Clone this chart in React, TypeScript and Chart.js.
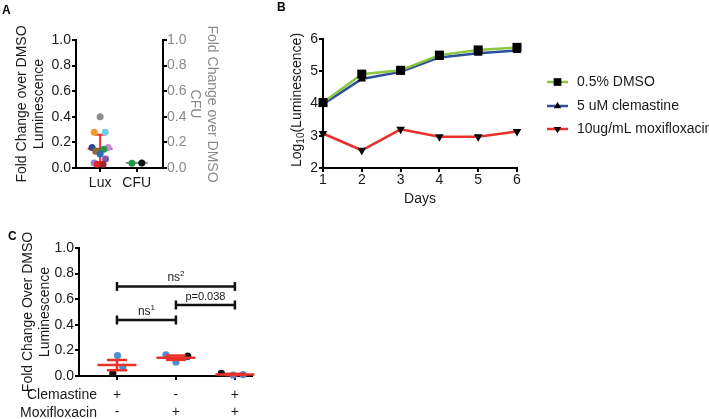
import React, { useEffect, useRef } from 'react';
import { Chart, registerables } from 'chart.js';

Chart.register(...registerables);

const W = 709;
const H = 419;
const FONT = "'Liberation Sans', Arial, Helvetica, sans-serif";
const INK = '#1a1a1a';
const GREY = '#8a8a8a';
const RED = '#e8312a';
const DOT_BLUE = '#4f8fd6';

// ---------- Panel A ----------
const aCategories = ['Lux', 'CFU'];
const luxValues = [0.4, 0.28, 0.28, 0.16, 0.16, 0.13, 0.146, 0.11, 0.07, 0.04, 0.03, 0.03];
const luxJitter = [0, -0.16, 0.14, -0.22, 0.22, -0.12, 0.1, 0, 0.15, -0.16, -0.08, 0.08];
const luxColors = ['#8c8c8c', '#f5982a', '#72cde6', '#2f4a8f', '#c58bd1', '#8a6a2d', '#1f9a4b', '#2b6db4', '#7b59a8', '#9b7dd1', '#e2262a', '#a3262c'];
const cfuValues = [0.037, 0.04];
const cfuJitter = [-0.13, 0.14];
const cfuColors = ['#1f9a4b', '#111111'];
const luxMedian = 0.15;
const luxLow = 0.04;
const luxHigh = 0.26;
const cfuMedian = 0.04;

// ---------- Panel B ----------
const days = [1, 2, 3, 4, 5, 6];
const dmso = [4.03, 4.91, 5.03, 5.5, 5.66, 5.74];
const clemastine = [3.98, 4.76, 4.98, 5.43, 5.56, 5.64];
const moxifloxacin = [3.07, 2.55, 3.2, 2.97, 2.97, 3.13];
const seriesNames = ['0.5% DMSO', '5 uM clemastine', '10ug/mL moxifloxacin'];

// ---------- Panel C ----------
const cRowNames = ['Clemastine', 'Moxifloxacin'];
const clemastineSigns = ['+', '-', '+'];
const moxifloxacinSigns = ['-', '+', '+'];
const cGroup = [0, 0, 0, 1, 1, 1, 2, 2, 2];
const cJitter = [0.01, 0.1, -0.07, -0.17, 0, 0.2, -0.23, -0.03, 0.14];
const cValues = [0.16, 0.07, 0.02, 0.165, 0.11, 0.155, 0.02, 0.008, 0.01];
const cIsBlack = [false, false, true, false, false, true, true, false, false];
const cMeans = [0.085, 0.143, 0.012];
const cSems = [0.04, 0.017, 0.005];
const bracketFrom = [0, 1, 0];
const bracketTo = [2, 2, 1];
const bracketY = [0.7, 0.555, 0.4375];
const bracketText = ['ns', 'p=0.038', 'ns'];
const bracketSup = ['2', '', '1'];

const common = {
  responsive: false,
  maintainAspectRatio: false,
  animation: false as const,
  devicePixelRatio: 1,
  events: [] as any[],
  plugins: { legend: { display: false }, tooltip: { enabled: false } },
};

const axis = (color = INK, padding = 1) => ({
  grid: { drawOnChartArea: false, drawTicks: true, tickLength: 4, color: '#000', lineWidth: 2 },
  border: { display: true, color: '#000', width: 2 },
  ticks: { color, font: { size: 14, family: FONT }, padding },
});

function hline(ctx: CanvasRenderingContext2D, x1: number, x2: number, y: number) {
  ctx.beginPath();
  ctx.moveTo(x1, y);
  ctx.lineTo(x2, y);
  ctx.stroke();
}
function vline(ctx: CanvasRenderingContext2D, x: number, y1: number, y2: number) {
  ctx.beginPath();
  ctx.moveTo(x, y1);
  ctx.lineTo(x, y2);
  ctx.stroke();
}
function letter(ctx: CanvasRenderingContext2D, t: string, x: number, y: number) {
  ctx.save();
  ctx.font = `bold 12px ${FONT}`;
  ctx.fillStyle = '#000';
  ctx.textAlign = 'left';
  ctx.textBaseline = 'alphabetic';
  ctx.fillText(t, x, y);
  ctx.restore();
}

function makeA(canvas: HTMLCanvasElement) {
  const plugin = {
    id: 'panelA',
    beforeDatasetsDraw(chart: any) {
      const { ctx } = chart;
      const x = chart.scales.x;
      const y = chart.scales.y;
      ctx.save();
      ctx.lineWidth = 2;
      ctx.strokeStyle = RED;
      hline(ctx, x.getPixelForValue(-0.34), x.getPixelForValue(0.34), y.getPixelForValue(luxMedian));
      vline(ctx, x.getPixelForValue(0), y.getPixelForValue(luxLow), y.getPixelForValue(luxHigh));
      hline(ctx, x.getPixelForValue(-0.14), x.getPixelForValue(0.14), y.getPixelForValue(luxHigh));
      hline(ctx, x.getPixelForValue(-0.14), x.getPixelForValue(0.14), y.getPixelForValue(luxLow));
      ctx.strokeStyle = '#8a8a8a';
      hline(ctx, x.getPixelForValue(1 - 0.3), x.getPixelForValue(1 + 0.3), y.getPixelForValue(cfuMedian));
      ctx.restore();
    },
    afterDraw(chart: any) {
      letter(chart.ctx, 'A', 2, 14);
    },
  };
  return new Chart(canvas, {
    type: 'scatter',
    data: {
      datasets: [
        {
          data: luxValues.map((v, i) => ({ x: luxJitter[i], y: v })),
          pointBackgroundColor: luxColors,
          pointBorderWidth: 0,
          pointRadius: 3.5,
          yAxisID: 'y',
        },
        {
          data: cfuValues.map((v, i) => ({ x: 1 + cfuJitter[i], y: v })),
          pointBackgroundColor: cfuColors,
          pointBorderWidth: 0,
          pointRadius: 3.5,
          yAxisID: 'y',
        },
      ],
    },
    options: {
      ...common,
      layout: { padding: { left: 4, right: 485, top: 40, bottom: 221 } },
      scales: {
        x: {
          type: 'linear',
          min: -0.66,
          max: 1.72,
          ...axis(INK, 3),
          afterBuildTicks: (s: any) => {
            s.ticks = [0, 1].map((v) => ({ value: v }));
          },
          afterFit: (s: any) => {
            s.height = 30;
          },
          ticks: { ...axis(INK, 3).ticks, callback: (v: any) => aCategories[v] },
        },
        y: {
          position: 'left',
          min: 0,
          max: 1,
          ...axis(INK, 1),
          ticks: { ...axis(INK, 1).ticks, stepSize: 0.2, callback: (v: any) => Number(v).toFixed(1) },
          afterFit: (s: any) => {
            s.width = 72;
          },
          title: {
            display: true,
            text: ['Fold Change over DMSO', 'Luminescence'],
            color: INK,
            font: { size: 14, family: FONT, lineHeight: 1.25 },
            padding: { top: 9, bottom: 0 },
          },
        },
        y2: {
          position: 'right',
          min: 0,
          max: 1,
          ...axis(GREY, 0),
          ticks: { ...axis(GREY, 0).ticks, stepSize: 0.2, callback: (v: any) => Number(v).toFixed(1) },
          afterFit: (s: any) => {
            s.width = 61;
          },
          title: {
            display: true,
            text: ['Fold Change over DMSO', 'CFU'],
            color: GREY,
            font: { size: 14, family: FONT, lineHeight: 1.25 },
            padding: { top: 3, bottom: 0 },
          },
        },
      },
    } as any,
    plugins: [plugin],
  });
}

function drawMarker(ctx: CanvasRenderingContext2D, style: string, rot: number, x: number, y: number, r: number) {
  ctx.beginPath();
  if (style === 'rect') {
    const s = Math.SQRT1_2 * r;
    ctx.rect(x - s, y - s, 2 * s, 2 * s);
  } else {
    let a = (rot * Math.PI) / 180;
    ctx.moveTo(x + Math.sin(a) * r, y - Math.cos(a) * r);
    a += (2 * Math.PI) / 3;
    ctx.lineTo(x + Math.sin(a) * r, y - Math.cos(a) * r);
    a += (2 * Math.PI) / 3;
    ctx.lineTo(x + Math.sin(a) * r, y - Math.cos(a) * r);
    ctx.closePath();
  }
  ctx.fill();
}

function makeB(canvas: HTMLCanvasElement) {
  const lineColors = ['#8cc63f', '#2d4e9b', RED];
  const styles = ['rect', 'triangle', 'triangle'];
  const rots = [0, 0, 180];
  const radii = [6.4, 5, 5];
  const series = [dmso, clemastine, moxifloxacin];
  const plugin = {
    id: 'panelB',
    afterDraw(chart: any) {
      const { ctx } = chart;
      ctx.save();
      // y title with subscript
      ctx.translate(297, 100);
      ctx.rotate(-Math.PI / 2);
      ctx.fillStyle = INK;
      ctx.textBaseline = 'middle';
      ctx.textAlign = 'left';
      const big = `14px ${FONT}`;
      const small = `10px ${FONT}`;
      ctx.font = big;
      const w1 = ctx.measureText('Log').width;
      const w3 = ctx.measureText('(Luminescence)').width;
      ctx.font = small;
      const w2 = ctx.measureText('10').width;
      let px = -(w1 + w2 + w3) / 2;
      ctx.font = big;
      ctx.fillText('Log', px, 0);
      px += w1;
      ctx.font = small;
      ctx.fillText('10', px, 4);
      px += w2;
      ctx.font = big;
      ctx.fillText('(Luminescence)', px, 0);
      ctx.restore();

      // legend
      const rowY = [82, 106, 129];
      ctx.save();
      seriesNames.forEach((name, i) => {
        const y = rowY[i];
        ctx.strokeStyle = lineColors[i];
        ctx.lineWidth = 2.5;
        hline(ctx, 547, 568, y);
        ctx.fillStyle = '#000';
        drawMarker(ctx, styles[i], rots[i], 557.5, y, radii[i] * 0.85);
        ctx.fillStyle = INK;
        ctx.font = `14px ${FONT}`;
        ctx.textAlign = 'left';
        ctx.textBaseline = 'middle';
        ctx.fillText(name, 577, y);
      });
      ctx.restore();
      letter(ctx, 'B', 277, 11);
    },
  };
  return new Chart(canvas, {
    type: 'line',
    data: {
      datasets: series.map((s, i) => ({
        label: seriesNames[i],
        data: s.map((v, j) => ({ x: days[j], y: v })),
        borderColor: lineColors[i],
        borderWidth: 2.5,
        backgroundColor: '#000',
        pointBackgroundColor: '#000',
        pointBorderWidth: 0,
        pointStyle: styles[i],
        pointRotation: rots[i],
        pointRadius: radii[i],
        tension: 0,
        fill: false,
        clip: false,
      })),
    },
    options: {
      ...common,
      layout: { padding: { left: 293, right: 192, top: 39, bottom: 211 } },
      scales: {
        x: {
          type: 'linear',
          min: 1,
          max: 6,
          ...axis(INK, 0),
          ticks: { ...axis(INK, 0).ticks, stepSize: 1 },
          afterFit: (s: any) => {
            s.height = 40;
          },
          title: {
            display: true,
            text: 'Days',
            color: INK,
            font: { size: 14, family: FONT },
            padding: { top: 0, bottom: 0 },
          },
        },
        y: {
          position: 'left',
          min: 2,
          max: 6,
          ...axis(INK, 1),
          ticks: { ...axis(INK, 1).ticks, stepSize: 1 },
          afterFit: (s: any) => {
            s.width = 30;
          },
        },
      },
    } as any,
    plugins: [plugin],
  });
}

function makeC(canvas: HTMLCanvasElement) {
  const plugin = {
    id: 'panelC',
    afterDatasetsDraw(chart: any) {
      const { ctx } = chart;
      const x = chart.scales.x;
      const y = chart.scales.y;
      ctx.save();
      ctx.strokeStyle = RED;
      ctx.lineWidth = 2.5;
      cMeans.forEach((m, g) => {
        const cx = x.getPixelForValue(g);
        hline(ctx, x.getPixelForValue(g - 0.33), x.getPixelForValue(g + 0.33), y.getPixelForValue(m));
        vline(ctx, cx, y.getPixelForValue(m - cSems[g]), y.getPixelForValue(m + cSems[g]));
        hline(ctx, x.getPixelForValue(g - 0.17), x.getPixelForValue(g + 0.17), y.getPixelForValue(m + cSems[g]));
        hline(ctx, x.getPixelForValue(g - 0.17), x.getPixelForValue(g + 0.17), y.getPixelForValue(m - cSems[g]));
      });
      ctx.restore();
    },
    afterDraw(chart: any) {
      const { ctx } = chart;
      const x = chart.scales.x;
      const y = chart.scales.y;
      ctx.save();
      ctx.strokeStyle = '#111';
      ctx.fillStyle = INK;
      ctx.lineWidth = 2.5;
      bracketY.forEach((by, i) => {
        const x1 = x.getPixelForValue(bracketFrom[i]);
        const x2 = x.getPixelForValue(bracketTo[i]);
        const py = y.getPixelForValue(by);
        hline(ctx, x1, x2, py);
        vline(ctx, x1, py - 4.5, py + 4.5);
        vline(ctx, x2, py - 4.5, py + 4.5);
        const isP = bracketSup[i] === '';
        const mainFont = `${isP ? 11 : 12}px ${FONT}`;
        const supFont = `8px ${FONT}`;
        ctx.font = mainFont;
        const wm = ctx.measureText(bracketText[i]).width;
        ctx.font = supFont;
        const ws = bracketSup[i] ? ctx.measureText(bracketSup[i]).width : 0;
        let tx = (x1 + x2) / 2 - (wm + ws) / 2;
        ctx.textAlign = 'left';
        ctx.textBaseline = 'alphabetic';
        ctx.font = mainFont;
        ctx.fillText(bracketText[i], tx, py - 5);
        tx += wm;
        if (bracketSup[i]) {
          ctx.font = supFont;
          ctx.fillText(bracketSup[i], tx, py - 10);
        }
      });
      // row labels
      ctx.font = `14px ${FONT}`;
      ctx.textAlign = 'right';
      ctx.textBaseline = 'middle';
      ctx.fillText(cRowNames[0], 97, 395);
      ctx.fillText(cRowNames[1], 97, 413);
      ctx.restore();
      letter(ctx, 'C', 8, 240);
    },
  };
  return new Chart(canvas, {
    type: 'scatter',
    data: {
      datasets: [
        {
          data: cValues.map((v, i) => ({ x: cGroup[i] + cJitter[i], y: v })),
          pointBackgroundColor: cIsBlack.map((b) => (b ? '#111111' : DOT_BLUE)),
          pointBorderWidth: 0,
          pointRadius: 3.6,
          clip: false,
        },
      ],
    },
    options: {
      ...common,
      layout: { padding: { left: 4, right: 457, top: 248, bottom: 3 } },
      scales: {
        x: {
          type: 'linear',
          min: -0.644,
          max: 2.29,
          ...axis(INK, 6),
          afterBuildTicks: (s: any) => {
            s.ticks = [0, 1, 2].map((v) => ({ value: v }));
          },
          afterFit: (s: any) => {
            s.height = 40;
          },
          ticks: {
            ...axis(INK, 6).ticks,
            font: { size: 14, family: FONT, lineHeight: 1.26 },
            callback: (v: any) => [clemastineSigns[v], moxifloxacinSigns[v]],
          },
        },
        y: {
          position: 'left',
          min: 0,
          max: 1,
          ...axis(INK, 1),
          ticks: { ...axis(INK, 1).ticks, stepSize: 0.2, callback: (v: any) => Number(v).toFixed(1) },
          afterFit: (s: any) => {
            s.width = 75;
          },
          title: {
            display: true,
            text: ['Fold Change Over DMSO', 'Luminescence'],
            color: INK,
            font: { size: 14, family: FONT, lineHeight: 1.214 },
            padding: { top: 15.6, bottom: 0 },
          },
        },
      },
    } as any,
    plugins: [plugin],
  });
}

export default function App() {
  const aRef = useRef<HTMLCanvasElement>(null);
  const bRef = useRef<HTMLCanvasElement>(null);
  const cRef = useRef<HTMLCanvasElement>(null);
  useEffect(() => {
    Chart.defaults.font.family = FONT;
    const charts = [makeA(aRef.current!), makeB(bRef.current!), makeC(cRef.current!)];
    return () => charts.forEach((c) => c.destroy());
  }, []);
  const style: React.CSSProperties = { position: 'absolute', left: 0, top: 0, width: W, height: H };
  return (
    <div style={{ position: 'absolute', left: 0, top: 0, width: W, height: H, background: '#fff' }}>
      <canvas ref={aRef} width={W} height={H} style={style} />
      <canvas ref={bRef} width={W} height={H} style={style} />
      <canvas ref={cRef} width={W} height={H} style={style} />
    </div>
  );
}
